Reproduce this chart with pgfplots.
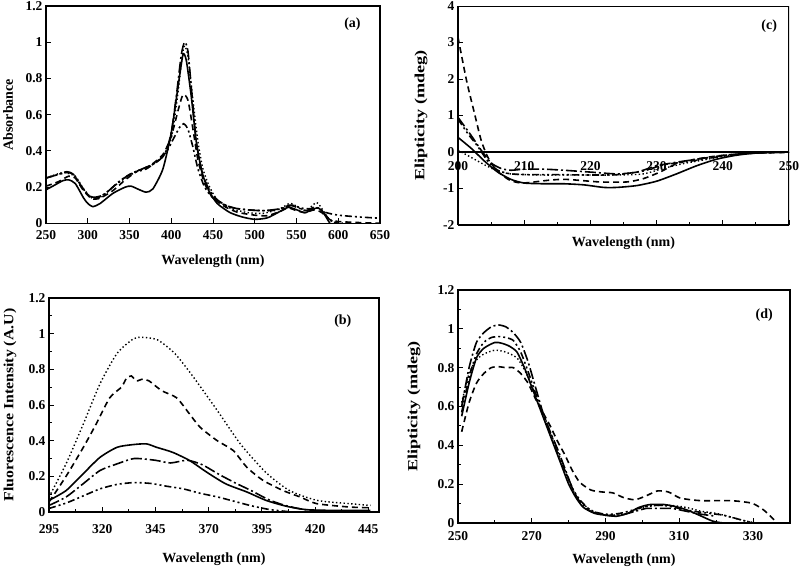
\documentclass[border=0pt]{standalone}
\usepackage{fontspec}
\setmainfont{Liberation Serif}
\usepackage{graphicx}
\usepackage{pgfplots}
\pgfplotsset{compat=1.18}
\newcommand\tickfont{\fontsize{13.5}{14}\selectfont\bfseries}
\newcommand\labfont{\fontsize{14}{16}\selectfont\bfseries}
\pgfplotsset{
  s1/.style={black, line width=1.6pt, solid, smooth, tension=0.4},
  s2/.style={black, line width=1.6pt, dash pattern=on 11pt off 3pt on 2pt off 3pt, smooth, tension=0.4},
  s3/.style={black, line width=1.6pt, dash pattern=on 6pt off 4pt, smooth, tension=0.4},
  s4/.style={black, line width=1.6pt, dash pattern=on 7pt off 3pt on 2pt off 3pt on 2pt off 3pt, smooth, tension=0.4},
  s5/.style={black, line width=1.4pt, dash pattern=on 1.4pt off 2.4pt, smooth, tension=0.4},
  panel/.style={
    scale only axis,
    anchor=south west,
    axis line style={line width=1.2pt},
    tick align=inside,
    xtick pos=lower, ytick pos=left,
    major tick length=5pt, minor tick length=3pt,
    every tick/.style={black, line width=0.9pt},
    /pgf/number format/assume math mode=true,
    x tick label style={font=\tickfont},
    y tick label style={font=\tickfont},
    no marks,
  },
}
\begin{document}
\begin{tikzpicture}
\path[use as bounding box] (0,0) rectangle (800pt,-568pt);

% ---------------- (a) ----------------
\begin{axis}[panel,
  at={(46pt,-223.3pt)}, width=334pt, height=217.3pt,
  xmin=250, xmax=650, ymin=0, ymax=1.2,
  xtick={250,300,...,650}, ytick={0,0.2,...,1.2},
  yticklabels={0,0.2,0.4,0.6,0.8,1,1.2},
  xlabel={Wavelength (nm)}, ylabel={Absorbance},
  x tick label style={yshift=-4pt},
  x label style={at={([yshift=-38pt]rel axis cs:0.5,0)}, anchor=center, font=\labfont},
  y label style={at={([xshift=-38pt]rel axis cs:0,0.5)}, anchor=center, font=\labfont},
]
\addplot[s1] coordinates {(250,0.185) (260,0.21) (270,0.235) (277,0.24) (285,0.22) (295,0.14) (300,0.11) (306,0.092) (315,0.11) (330,0.165) (345,0.2) (352,0.205) (362,0.185) (370,0.172) (378,0.19) (390,0.3) (400,0.5) (408,0.75) (414,0.93) (418,0.9) (424,0.7) (430,0.45) (437,0.28) (445,0.18) (455,0.11) (470,0.06) (485,0.035) (500,0.022) (515,0.03) (528,0.06) (540,0.088) (550,0.075) (560,0.058) (568,0.075) (576,0.085) (582,0.06) (590,0.0) (596,-0.03)};
\addplot[s2] coordinates {(250,0.25) (265,0.27) (275,0.285) (283,0.27) (293,0.2) (302,0.15) (310,0.145) (320,0.16) (335,0.22) (350,0.27) (365,0.3) (380,0.33) (392,0.38) (400,0.5) (406,0.7) (412,0.93) (416,1.0) (420,0.95) (425,0.7) (430,0.45) (437,0.28) (445,0.19) (455,0.13) (470,0.09) (490,0.075) (510,0.07) (530,0.08) (542,0.1) (552,0.085) (562,0.07) (572,0.09) (580,0.07) (590,0.02) (600,0.0) (610,-0.02)};
\addplot[s3] coordinates {(250,0.205) (265,0.23) (277,0.26) (285,0.25) (295,0.18) (305,0.135) (315,0.14) (330,0.18) (345,0.24) (360,0.29) (375,0.32) (390,0.38) (400,0.48) (408,0.62) (414,0.71) (420,0.68) (426,0.52) (432,0.35) (440,0.22) (450,0.14) (465,0.09) (480,0.06) (500,0.045) (515,0.042) (530,0.065) (540,0.085) (550,0.07) (560,0.06) (572,0.075) (580,0.06) (590,0.02) (600,0.01) (620,0.005) (650,0.0)};
\addplot[s4] coordinates {(250,0.25) (265,0.27) (275,0.28) (283,0.27) (293,0.2) (302,0.15) (312,0.14) (325,0.18) (340,0.24) (355,0.28) (370,0.3) (385,0.35) (395,0.4) (403,0.47) (410,0.53) (415,0.55) (420,0.52) (426,0.42) (432,0.3) (440,0.2) (450,0.14) (465,0.1) (480,0.08) (500,0.072) (520,0.07) (535,0.085) (545,0.1) (555,0.085) (565,0.08) (575,0.085) (585,0.06) (600,0.045) (625,0.035) (650,0.028)};
\addplot[s5] coordinates {(250,0.25) (270,0.28) (285,0.26) (295,0.19) (305,0.14) (315,0.14) (330,0.2) (345,0.25) (360,0.29) (375,0.32) (390,0.37) (400,0.47) (407,0.68) (413,0.92) (416,0.98) (420,0.92) (426,0.68) (432,0.45) (438,0.3) (446,0.2) (455,0.13) (470,0.085) (490,0.06) (510,0.055) (530,0.08) (542,0.11) (552,0.09) (562,0.07) (574,0.115) (582,0.07) (592,0.01) (610,0.0)};
\node[font=\labfont] at (axis cs:617,1.1) {(a)};
\end{axis}

% ---------------- (c) ----------------
\begin{axis}[panel,
  at={(458pt,-225pt)}, width=331pt, height=219pt,
  xmin=200, xmax=250, ymin=-2, ymax=4,
  axis x line*=middle, axis y line*=left,
  hide obscured x ticks=false,
  xtick={200,210,...,250}, minor x tick num=1,
  ytick={-2,-1,...,4},
  xlabel={Wavelength (nm)},
  ylabel={\scalebox{1.3}[1]{Elipticity (mdeg)}},
  x label style={at={([yshift=-18pt]rel axis cs:0.5,0)}, anchor=center, font=\labfont},
  y label style={at={([xshift=-37pt]rel axis cs:0,0.5)}, anchor=center, font=\labfont},
  x tick label style={yshift=-6pt},
]
\draw[line width=1.2pt] (rel axis cs:0,0) rectangle (rel axis cs:1,1);
\addplot[s3] coordinates {(200,3.14) (201.3,1.95) (202.5,1.05) (203.5,0.32) (204.5,-0.14) (205.8,-0.5) (207.8,-0.77) (209.8,-0.85) (213.9,-0.77) (216.4,-0.75) (221.4,-0.82) (225.5,-0.82) (228,-0.73) (230.5,-0.55) (233,-0.32) (235.5,-0.21) (238.6,-0.12) (241.6,-0.064) (244.6,-0.03) (250,-0.01)};
\addplot[s1] coordinates {(200,0.4) (202,0.1) (204,-0.25) (206,-0.55) (208,-0.75) (210,-0.85) (213,-0.87) (216,-0.87) (219,-0.9) (222,-0.97) (224,-0.97) (227,-0.92) (230,-0.8) (233,-0.6) (236,-0.38) (239,-0.2) (242,-0.09) (245,-0.03) (250,0)};
\addplot[s2] coordinates {(200,0.95) (201,0.7) (202,0.45) (203.5,0.05) (205,-0.3) (206.5,-0.45) (208,-0.5) (210,-0.47) (213,-0.47) (216,-0.5) (220,-0.55) (224,-0.6) (227,-0.55) (230,-0.38) (233,-0.28) (236,-0.2) (239,-0.12) (242,-0.06) (245,-0.02) (250,0)};
\addplot[s5] coordinates {(200,0.05) (202,-0.15) (204,-0.35) (206,-0.52) (208,-0.6) (212,-0.63) (218,-0.63) (224,-0.63) (228,-0.6) (231,-0.45) (234,-0.32) (237,-0.22) (240,-0.12) (243,-0.05) (246,-0.02) (250,0)};
\addplot[s4] coordinates {(200,0.9) (201.5,0.5) (203,0.15) (204.5,-0.25) (206,-0.5) (208,-0.6) (211,-0.62) (215,-0.62) (220,-0.63) (224,-0.62) (228,-0.52) (231,-0.35) (234,-0.28) (237,-0.2) (240,-0.11) (243,-0.05) (246,-0.02) (250,0)};
\node[font=\labfont] at (axis cs:247,3.45) {(c)};
\end{axis}

% ---------------- (b) ----------------
\begin{axis}[panel,
  at={(49pt,-512pt)}, width=330pt, height=214pt,
  xmin=295, xmax=450, ymin=0, ymax=1.2,
  xtick={295,320,...,445}, minor x tick num=1,
  ytick={0,0.2,...,1.2}, minor y tick num=1,
  yticklabels={0,0.2,0.4,0.6,0.8,1,1.2},
  xlabel={Wavelength (nm)},
  ylabel={\scalebox{1.13}[1]{Fluorescence Intensity (A.U)}},
  x tick label style={yshift=-9pt},
  x label style={at={([yshift=-47pt]rel axis cs:0.5,0)}, anchor=center, font=\labfont},
  y label style={at={([xshift=-39pt]rel axis cs:0,0.5)}, anchor=center, font=\labfont},
]
\addplot[s5] coordinates {(295,0.084) (303,0.27) (311,0.49) (319,0.72) (327,0.89) (334.5,0.97) (338.5,0.98) (346,0.965) (354,0.89) (362,0.77) (374,0.57) (385,0.38) (397,0.22) (408,0.12) (421,0.065) (436,0.047) (446,0.037)};
\addplot[s3] coordinates {(295,0.056) (303,0.2) (311,0.36) (317,0.49) (323.5,0.64) (329,0.7) (331.4,0.75) (333.7,0.763) (336,0.735) (339,0.745) (342,0.735) (348,0.68) (355,0.64) (361,0.55) (366,0.475) (374,0.40) (381.5,0.345) (388,0.25) (395.6,0.177) (405,0.12) (413,0.084) (420.7,0.047) (436,0.028) (446,0.024)};
\addplot[s1] coordinates {(295,0.065) (303,0.12) (311,0.214) (319,0.307) (327,0.363) (334.5,0.378) (340.8,0.382) (345.5,0.363) (353,0.335) (361,0.289) (369,0.224) (378,0.158) (388,0.112) (397,0.065) (406.6,0.032) (416,0.013) (428.5,0.009) (446,0.009)};
\addplot[s2] coordinates {(295,0.037) (303,0.084) (311,0.158) (319,0.233) (327,0.27) (335,0.3) (345,0.29) (352,0.275) (360,0.29) (367,0.265) (375,0.21) (383,0.16) (390,0.12) (398,0.07) (405,0.04) (412,0.02) (420,0.008) (445,0.005)};
\addplot[s4] coordinates {(295,0.02) (303,0.05) (311,0.09) (319,0.13) (327,0.155) (335,0.165) (343,0.16) (350,0.145) (358,0.13) (366,0.105) (374,0.085) (382,0.06) (390,0.035) (398,0.015) (405,0.005) (412,0.0) (445,0.0)};
\node[font=\labfont] at (axis cs:433,1.07) {(b)};
\end{axis}

% ---------------- (d) ----------------
\begin{axis}[panel,
  at={(458pt,-523pt)}, width=332pt, height=233pt,
  xmin=250, xmax=340, ymin=0, ymax=1.2,
  xtick={250,270,...,330}, minor x tick num=1,
  ytick={0,0.2,...,1.2}, minor y tick num=1,
  yticklabels={0,0.2,0.4,0.6,0.8,1,1.2},
  xlabel={Wavelength (nm)},
  ylabel={\scalebox{1.3}[1]{Elipticity (mdeg)}},
  x tick label style={yshift=-5pt},
  x label style={at={([yshift=-37pt]rel axis cs:0.5,0)}, anchor=center, font=\labfont},
  y label style={at={([xshift=-44pt]rel axis cs:0,0.5)}, anchor=center, font=\labfont},
]
\addplot[s1] coordinates {(251,0.55) (253,0.72) (255,0.85) (257,0.9) (260,0.93) (262,0.925) (264,0.91) (266,0.88) (268,0.8) (270,0.7) (272,0.6) (274,0.5) (276,0.4) (278,0.3) (280,0.2) (282,0.13) (284,0.08) (287,0.05) (290,0.04) (293,0.035) (296,0.05) (299,0.08) (302,0.095) (306,0.095) (310,0.08) (313,0.06) (316,0.035) (319,0.01) (322,0.0) (326,0.0)};
\addplot[s3] coordinates {(251,0.47) (253,0.62) (255,0.72) (257,0.77) (259,0.8) (261,0.805) (263,0.8) (265,0.8) (267,0.77) (269,0.72) (271,0.64) (273,0.57) (275,0.5) (277,0.42) (279,0.35) (281,0.27) (283,0.21) (286,0.17) (289,0.16) (292,0.155) (295,0.13) (298,0.12) (301,0.14) (304,0.165) (307,0.16) (310,0.13) (313,0.12) (316,0.115) (320,0.115) (324,0.115) (327,0.11) (330,0.1) (333,0.065) (336,0.01)};
\addplot[s2] coordinates {(251,0.6) (253,0.8) (255,0.93) (257,0.98) (259,1.01) (261,1.02) (263,1.01) (265,0.98) (267,0.93) (269,0.83) (271,0.7) (273,0.57) (275,0.47) (277,0.38) (279,0.28) (281,0.18) (283,0.11) (286,0.06) (290,0.04) (294,0.04) (298,0.06) (301,0.075) (304,0.075) (308,0.075) (312,0.06) (316,0.045) (320,0.035)};
\addplot[s4] coordinates {(251,0.57) (253,0.75) (255,0.87) (257,0.93) (259,0.955) (261,0.96) (263,0.955) (265,0.94) (267,0.88) (269,0.78) (271,0.67) (273,0.56) (275,0.46) (277,0.36) (279,0.27) (281,0.18) (283,0.12) (286,0.065) (290,0.045) (294,0.05) (298,0.07) (302,0.09) (306,0.09) (310,0.075) (314,0.06) (318,0.05) (322,0.04) (326,0.02) (330,0.0)};
\addplot[s5] coordinates {(251,0.62) (253,0.77) (255,0.84) (257,0.87) (260,0.89) (263,0.88) (266,0.85) (268,0.79) (270,0.71) (272,0.61) (274,0.52) (276,0.42) (278,0.32) (280,0.22) (282,0.14) (285,0.08) (288,0.05) (292,0.04) (296,0.05) (300,0.08) (304,0.09) (308,0.09) (312,0.08) (316,0.06) (320,0.05) (324,0.03) (328,0.01) (331,0.0)};
\node[font=\labfont] at (axis cs:333,1.07) {(d)};
\end{axis}
\end{tikzpicture}
\end{document}
